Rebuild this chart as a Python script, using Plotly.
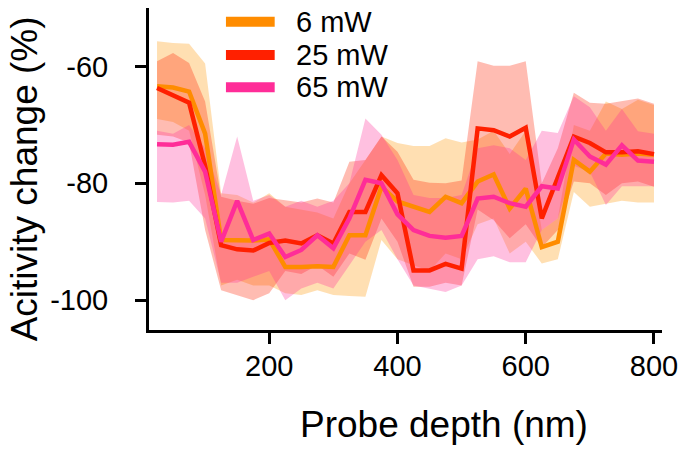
import plotly.graph_objects as go

# ---------------- data ----------------
depth = [25, 50, 75, 100, 125, 150, 175, 200, 225, 250, 275, 300, 325, 350, 375, 400,
         425, 450, 475, 500, 525, 550, 575, 600, 625, 650, 675, 700, 725, 750, 775, 800]

series_names = ["6 mW", "25 mW", "65 mW"]

mean_6 = [-63.4, -63.6, -64.3, -71.5, -89.7, -89.7, -89.8, -89.6, -94.3, -94.3, -94.2, -94.3,
          -88.9, -88.9, -80.6, -83.1, -84.0, -84.9, -82.3, -83.4, -79.7, -78.5, -84.3, -80.9,
          -90.9, -90.0, -76.0, -78.0, -74.9, -75.1, -74.9, -75.1]
upper_6 = [-55.7, -56.0, -56.1, -59.5, -81.7, -82.0, -83.3, -81.7, -84.0, -84.5, -85.0, -86.0,
           -80.0, -76.0, -72.0, -73.1, -73.6, -73.6, -72.3, -73.0, -72.5, -71.0, -75.0, -71.0,
           -88.0, -86.0, -70.0, -71.0, -66.0, -67.3, -65.7, -66.6]
lower_6 = [-69.0, -69.5, -71.0, -82.0, -97.5, -96.5, -97.5, -97.5, -98.8, -99.1, -98.3, -99.1,
           -99.3, -99.4, -89.7, -93.0, -94.0, -95.0, -92.0, -93.0, -87.0, -86.0, -92.0, -90.0,
           -93.7, -93.0, -81.5, -84.0, -83.5, -83.0, -83.3, -83.3]

mean_25 = [-63.7, -64.9, -66.2, -77.0, -90.6, -91.3, -91.5, -90.2, -89.8, -90.3, -88.9, -90.3,
           -84.9, -84.9, -78.6, -81.7, -94.9, -94.9, -93.8, -94.6, -70.6, -70.9, -72.0, -70.5,
           -86.0, -79.0, -72.0, -73.1, -74.7, -74.7, -74.5, -75.0]
upper_25 = [-59.1, -57.7, -59.4, -66.0, -82.3, -83.0, -83.5, -82.5, -82.9, -83.3, -82.6, -83.3,
            -76.3, -76.0, -72.0, -74.6, -79.4, -79.9, -80.0, -79.5, -59.1, -59.9, -59.9, -59.1,
            -80.0, -74.0, -64.5, -66.2, -66.4, -66.0, -65.5, -66.4]
lower_25 = [-71.7, -72.0, -73.0, -88.0, -98.3, -99.1, -100.0, -98.8, -95.0, -95.5, -94.0, -96.0,
            -92.0, -93.1, -86.0, -90.0, -97.7, -97.7, -97.0, -97.5, -84.5, -86.3, -89.4, -87.0,
            -91.0, -88.0, -79.7, -80.0, -82.0, -80.0, -79.7, -80.6]

mean_65 = [-73.3, -73.4, -72.9, -78.0, -90.0, -83.0, -89.7, -88.6, -92.6, -91.4, -88.9, -91.1,
           -86.0, -79.4, -80.0, -85.3, -88.0, -89.0, -89.3, -89.0, -82.6, -82.3, -83.4, -84.0,
           -80.5, -80.9, -72.5, -75.4, -76.8, -73.5, -76.1, -76.3]
upper_65 = [-71.0, -71.5, -70.0, -74.0, -82.0, -72.0, -83.0, -82.0, -84.0, -83.0, -84.0, -83.0,
            -80.0, -68.9, -71.7, -76.0, -82.0, -82.5, -82.5, -82.0, -74.0, -73.5, -74.0, -76.0,
            -71.0, -71.4, -65.1, -67.0, -71.0, -67.3, -71.1, -71.5]
lower_65 = [-83.2, -83.3, -83.0, -86.0, -97.0, -97.0, -96.0, -95.0, -100.0, -98.0, -97.0, -98.0,
            -94.0, -90.0, -88.0, -93.0, -97.5, -98.0, -98.6, -97.5, -93.0, -92.5, -93.5, -93.5,
            -88.0, -86.0, -77.0, -78.0, -83.7, -80.5, -80.5, -80.5]

x_ticks = [200, 400, 600, 800]
y_ticks = [-60, -80, -100]
y_tick_text = ["-60", "-80", "-100"]

line_colors = ["#FF8C00", "#FF2000", "#FF2D98"]
band_colors = ["rgba(255,150,0,0.3)", "rgba(255,32,0,0.3)", "rgba(255,45,152,0.3)"]

means = [mean_6, mean_25, mean_65]
uppers = [upper_6, upper_25, upper_65]
lowers = [lower_6, lower_25, lower_65]

FONT = "Liberation Sans, Arial, Helvetica, sans-serif"

fig = go.Figure()

# bands
for name, up, lo, bc in zip(series_names, uppers, lowers, band_colors):
    fig.add_trace(go.Scatter(x=depth, y=up, mode="lines", line=dict(width=0),
                             showlegend=False, hoverinfo="skip"))
    fig.add_trace(go.Scatter(x=depth, y=lo, mode="lines", line=dict(width=0),
                             fill="tonexty", fillcolor=bc, showlegend=False,
                             hoverinfo="skip"))

# mean lines
for name, m, lc in zip(series_names, means, line_colors):
    fig.add_trace(go.Scatter(x=depth, y=m, mode="lines", name=name,
                             line=dict(color=lc, width=4.5), showlegend=False))

# custom legend (long thick handles like the reference)
leg_y = [0.957, 0.854, 0.754]
for name, lc, ly in zip(series_names, line_colors, leg_y):
    fig.add_shape(type="line", xref="paper", yref="paper",
                  x0=0.150, x1=0.245, y0=ly, y1=ly,
                  line=dict(color=lc, width=10))
    fig.add_annotation(xref="paper", yref="paper", x=0.282, y=ly, text=name,
                       showarrow=False, xanchor="left", yanchor="middle",
                       font=dict(size=29, color="black", family=FONT))

# axis titles
fig.add_annotation(xref="paper", yref="paper", x=0.576, y=-0.295,
                   text="Probe depth (nm)", showarrow=False,
                   xanchor="center", yanchor="middle",
                   font=dict(size=37, color="black", family=FONT))
fig.add_annotation(xref="paper", yref="paper", x=-0.242, y=0.4705,
                   text="Acitivity change (%)", showarrow=False, textangle=-90,
                   xanchor="center", yanchor="middle",
                   font=dict(size=37, color="black", family=FONT))

fig.update_layout(
    width=686, height=449,
    margin=dict(l=149, r=19, t=8, b=119),
    paper_bgcolor="white", plot_bgcolor="white",
    font=dict(family=FONT, color="black"),
    showlegend=False,
)
fig.update_xaxes(range=[12.5, 812.5], tickvals=x_ticks, ticks="outside", ticklen=11,
                 tickwidth=3, tickcolor="black", showline=True, linewidth=3,
                 linecolor="black", showgrid=False, zeroline=False,
                 tickfont=dict(size=29, family=FONT, color="black"),
                 ticklabelstandoff=-3)
fig.update_yaxes(range=[-105.1, -50], tickvals=y_ticks, ticktext=y_tick_text,
                 ticks="outside", ticklen=11,
                 tickwidth=3, tickcolor="black", showline=True, linewidth=3,
                 linecolor="black", showgrid=False, zeroline=False,
                 tickfont=dict(size=29, family=FONT, color="black"),
                 ticklabelstandoff=21)

fig.write_html("out.html")
